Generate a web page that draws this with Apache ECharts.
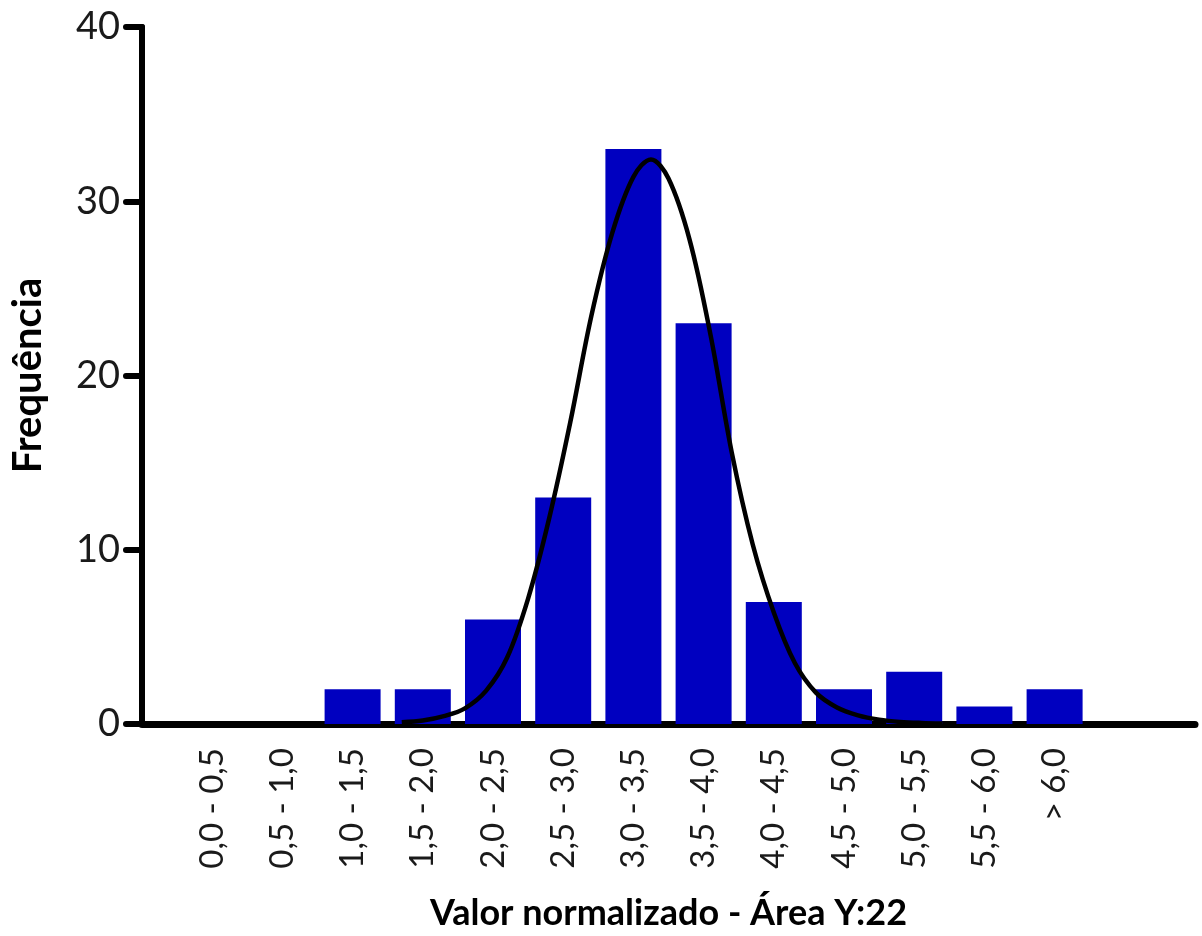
<!DOCTYPE html>
<html>
<head>
<meta charset="utf-8">
<script src="https://cdn.jsdelivr.net/npm/echarts@6/dist/echarts.min.js"></script>
<style>html,body{margin:0;padding:0;background:#fff}#chart{width:1202px;height:936px}</style>
</head>
<body>
<div id="chart"></div>
<script>
const categories = ['0,0 - 0,5','0,5 - 1,0','1,0 - 1,5','1,5 - 2,0','2,0 - 2,5','2,5 - 3,0','3,0 - 3,5','3,5 - 4,0','4,0 - 4,5','4,5 - 5,0','5,0 - 5,5','5,5 - 6,0','> 6,0'];
const frequencies = [0, 0, 2, 2, 6, 13, 33, 23, 7, 2, 3, 1, 2];
// fitted curve: position along category axis (1 = first bin) and height
const curvePos = [3.70, 4.00, 4.30, 4.60, 4.90, 5.20, 5.50, 5.80, 6.10, 6.40, 6.70, 7.00, 7.25, 7.50, 7.80, 8.10, 8.40, 8.70, 9.00, 9.30, 9.60, 9.90, 10.20, 10.50, 10.80, 11.10, 11.40];
const curveVal = [0.10, 0.20, 0.45, 0.90, 1.9, 3.8, 7.2, 11.8, 17.3, 23.4, 28.2, 31.4, 32.4, 31.3, 27.8, 22.3, 15.6, 10.3, 6.4, 3.5, 1.8, 0.95, 0.5, 0.25, 0.12, 0.06, 0.03];
const yTicks = [0, 10, 20, 30, 40];

const FONT = 'Lato, "Open Sans", sans-serif';
const chart = echarts.init(document.getElementById('chart'));
chart.setOption({
  animation: false,
  grid: { left: 140, right: 7, top: 27, bottom: 209, containLabel: false },
  xAxis: {
    type: 'value', min: 0, max: 15, interval: 1,
    axisLine: { show: true, lineStyle: { color: '#000', width: 7, cap: 'round' } },
    axisTick: { show: false },
    splitLine: { show: false },
    axisLabel: {
      rotate: 90, margin: 24, fontSize: 33, color: '#1a1a1a', fontFamily: FONT,
      formatter: v => (v >= 1 && v <= categories.length) ? categories[v - 1] : ''
    },
    name: 'Valor normalizado - Área Y:22', nameLocation: 'middle', nameGap: 171,
    nameTextStyle: { fontSize: 36, fontWeight: 'bold', color: '#000', fontFamily: FONT }
  },
  yAxis: {
    type: 'value', min: yTicks[0], max: yTicks[yTicks.length - 1], interval: 10,
    axisLine: { show: true, lineStyle: { color: '#000', width: 6, cap: 'round' } },
    axisTick: { show: true, length: 16, lineStyle: { color: '#000', width: 6, cap: 'round' } },
    splitLine: { show: false },
    axisLabel: { fontSize: 38, color: '#1a1a1a', fontFamily: FONT, margin: 22 },
    name: 'Frequência', nameLocation: 'middle', nameGap: 94,
    nameTextStyle: { fontSize: 40, fontWeight: 'bold', color: '#000', fontFamily: FONT }
  },
  series: [
    {
      type: 'bar', barWidth: 56,
      itemStyle: { color: '#0000C0' },
      data: frequencies.map((v, i) => [i + 1, v]),
      z: 2
    },
    {
      type: 'line', smooth: 0.35, symbol: 'none',
      lineStyle: { color: '#000', width: 4.5 },
      data: curvePos.map((p, i) => [p, curveVal[i]]),
      z: 3
    }
  ]
});
</script>
</body>
</html>
